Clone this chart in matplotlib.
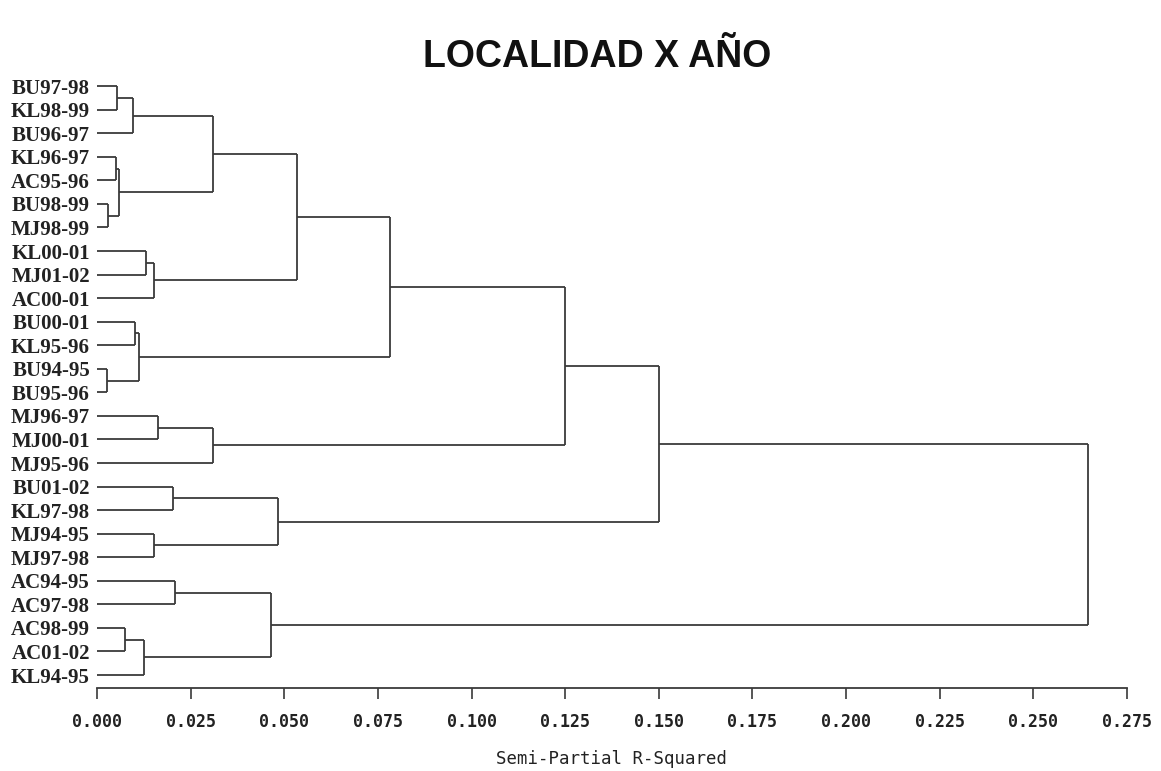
import matplotlib.pyplot as plt

# hojas del dendrograma (de arriba a abajo)
leaves = ["BU97-98", "KL98-99", "BU96-97", "KL96-97", "AC95-96", "BU98-99", "MJ98-99",
          "KL00-01", "MJ01-02", "AC00-01", "BU00-01", "KL95-96", "BU94-95", "BU95-96",
          "MJ96-97", "MJ00-01", "MJ95-96", "BU01-02", "KL97-98", "MJ94-95", "MJ97-98",
          "AC94-95", "AC97-98", "AC98-99", "AC01-02", "KL94-95"]

# uniones: (nodo a, nodo b, R2 semiparcial); nodos >= 26 son uniones previas
merge_a = [0, 26, 3, 5, 28, 27, 7, 32, 31, 10, 12, 35, 34, 14, 39, 38, 17, 19, 42, 41, 21, 23, 47, 46, 45]
merge_b = [1, 2, 4, 6, 29, 30, 8, 9, 33, 11, 13, 36, 37, 15, 16, 40, 18, 20, 43, 44, 22, 24, 25, 48, 49]
merge_h = [0.0053, 0.0097, 0.0051, 0.0030, 0.0060, 0.0310, 0.0130, 0.0152, 0.0533,
           0.0101, 0.0027, 0.0113, 0.0782, 0.0164, 0.0311, 0.1250, 0.0202, 0.0152,
           0.0483, 0.1500, 0.0208, 0.0075, 0.0125, 0.0464, 0.2646]

ticks = [i * 0.025 for i in range(12)]

fig = plt.figure(figsize=(11.61, 7.71), dpi=100)
ax = fig.add_axes([0.0835, 0.1077, 0.8872, 0.7968])

n = len(leaves)
pos = {i: float(i) for i in range(n)}
hgt = {i: 0.0 for i in range(n)}
col = "#3a3a3a"
for k, (a, b, h) in enumerate(zip(merge_a, merge_b, merge_h)):
    node = n + k
    ax.plot([hgt[a], h], [pos[a], pos[a]], color=col, lw=1.3, solid_capstyle="butt")
    ax.plot([hgt[b], h], [pos[b], pos[b]], color=col, lw=1.3, solid_capstyle="butt")
    ax.plot([h, h], [pos[a], pos[b]], color=col, lw=1.3, solid_capstyle="butt")
    pos[node] = (pos[a] + pos[b]) / 2
    hgt[node] = h

ax.set_ylim(n - 1 + 0.55, -0.53)
ax.set_xlim(0, 0.275)
ax.set_yticks(range(n))
ax.set_yticklabels(leaves, family="Liberation Serif", fontweight="bold", fontsize=15, color="#222222")
ax.tick_params(axis="y", length=0, pad=5)

ax.set_xticks(ticks)
ax.set_xticklabels([f"{t:.3f}" for t in ticks], family="DejaVu Sans Mono", fontweight="bold",
                   fontsize=12, color="#222222")
ax.tick_params(axis="x", direction="out", length=8, width=1.2, color=col, pad=10)

for s in ["top", "right", "left"]:
    ax.spines[s].set_visible(False)
ax.spines["bottom"].set_color(col)
ax.spines["bottom"].set_linewidth(1.3)

ax.set_xlabel("Semi-Partial R-Squared", family="DejaVu Sans Mono", fontsize=12.5, color="#222222", labelpad=14)
fig.text(0.514, 0.926, "LOCALIDAD X AÑO", ha="center", va="center", family="Liberation Sans",
         fontweight="bold", fontsize=27, color="#111111")

fig.savefig("out.png", dpi=100)
